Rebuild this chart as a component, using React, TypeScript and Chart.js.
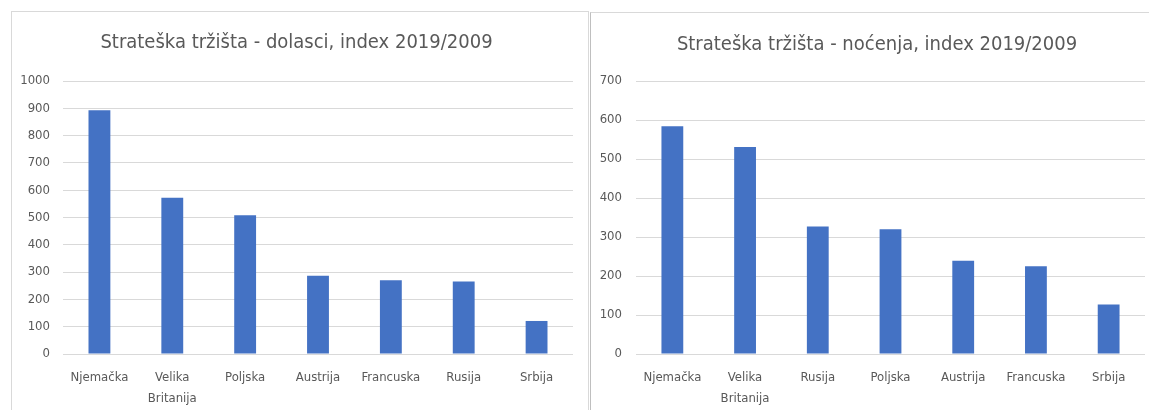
import React, { useEffect, useRef } from "react";
import { Chart, registerables } from "chart.js";

Chart.register(...registerables);

const leftTitle = "Strateška tržišta - dolasci, index 2019/2009";
const leftCategories: (string | string[])[] = ["Njemačka", ["Velika", "Britanija"], "Poljska", "Austrija", "Francuska", "Rusija", "Srbija"];
const leftValues = [893, 572, 508, 287, 270, 266, 121];
const leftMax = 1000;

const rightTitle = "Strateška tržišta - noćenja, index 2019/2009";
const rightCategories: (string | string[])[] = ["Njemačka", ["Velika", "Britanija"], "Rusija", "Poljska", "Austrija", "Francuska", "Srbija"];
const rightValues = [584, 531, 327, 320, 239, 225, 127];
const rightMax = 700;

const FONT = '"Liberation Sans Narrow", "DejaVu Sans Condensed", "Liberation Sans", sans-serif';
const TEXT = "#595959";
const GRID = "#d9d9d9";
const BAR = "#4472c4";

type Cfg = {
  title: string;
  labels: (string | string[])[];
  values: number[];
  max: number;
  width: number;
  height: number;
  axisW: number;
  axisH: number;
  padRight: number;
  titleTop: number;
  titleBottom: number;
  titleShift: number;
  yPad: number;
  xPad: number;
};

function BarChart(props: Cfg) {
  const ref = useRef<HTMLCanvasElement>(null);
  useEffect(() => {
    if (!ref.current) return;
    const shiftTitle = {
      id: "shiftTitle",
      afterLayout(chart: any) {
        const t = chart.titleBlock;
        if (t) {
          t.left += props.titleShift;
          t.right += props.titleShift;
        }
      },
    };
    const chart = new Chart(ref.current, {
      type: "bar",
      data: {
        labels: props.labels,
        datasets: [
          {
            data: props.values,
            backgroundColor: BAR,
            borderWidth: 0,
            barPercentage: 0.3,
            categoryPercentage: 1,
          },
        ],
      },
      plugins: [shiftTitle],
      options: {
        responsive: false,
        animation: false,
        devicePixelRatio: 1,
        layout: { padding: { left: 0, right: props.padRight, top: 0, bottom: 0 } },
        plugins: {
          legend: { display: false },
          tooltip: { enabled: false },
          title: {
            display: true,
            text: props.title,
            color: TEXT,
            font: { family: FONT, size: 20, weight: "normal", lineHeight: 1.2 },
            padding: { top: props.titleTop, bottom: props.titleBottom },
          },
        },
        scales: {
          x: {
            grid: { display: false, drawTicks: false },
            border: { display: false },
            ticks: {
              color: TEXT,
              padding: props.xPad,
              maxRotation: 0,
              autoSkip: false,
              font: { family: FONT, size: 13, lineHeight: 1.55 },
            },
            afterFit: (s: any) => {
              s.height = props.axisH;
            },
          },
          y: {
            min: 0,
            max: props.max,
            grid: { color: GRID, lineWidth: 1, drawTicks: false },
            border: { display: false },
            ticks: {
              stepSize: 100,
              color: TEXT,
              padding: props.yPad,
              font: { family: FONT, size: 13 },
              callback: (v: any) => String(v),
            },
            afterFit: (s: any) => {
              s.width = props.axisW;
            },
          },
        },
      },
    });
    return () => chart.destroy();
  }, []);
  return <canvas ref={ref} width={props.width} height={props.height} style={{ display: "block" }} />;
}

export default function App() {
  return (
    <div style={{ position: "absolute", left: 0, top: 0, width: 1149, height: 410, overflow: "hidden", background: "#fff" }}>
      <div
        style={{
          position: "absolute",
          left: 11,
          top: 11,
          width: 576,
          height: 410,
          border: "1px solid #d9d9d9",
          background: "#fff",
        }}
      >
        <BarChart
          title={leftTitle}
          labels={leftCategories}
          values={leftValues}
          max={leftMax}
          width={576}
          height={398}
          axisW={51}
          axisH={56}
          padRight={15}
          titleTop={19}
          titleBottom={26}
          titleShift={4}
          yPad={13}
          xPad={14}
        />
      </div>
      <div
        style={{
          position: "absolute",
          left: 590,
          top: 12,
          width: 620,
          height: 410,
          borderLeft: "1px solid #bfbfbf",
          borderTop: "1px solid #d9d9d9",
          background: "#fff",
        }}
      >
        <BarChart
          title={rightTitle}
          labels={rightCategories}
          values={rightValues}
          max={rightMax}
          width={558}
          height={397}
          axisW={45}
          axisH={56}
          padRight={4}
          titleTop={20}
          titleBottom={24}
          titleShift={9}
          yPad={14}
          xPad={14}
        />
      </div>
    </div>
  );
}
